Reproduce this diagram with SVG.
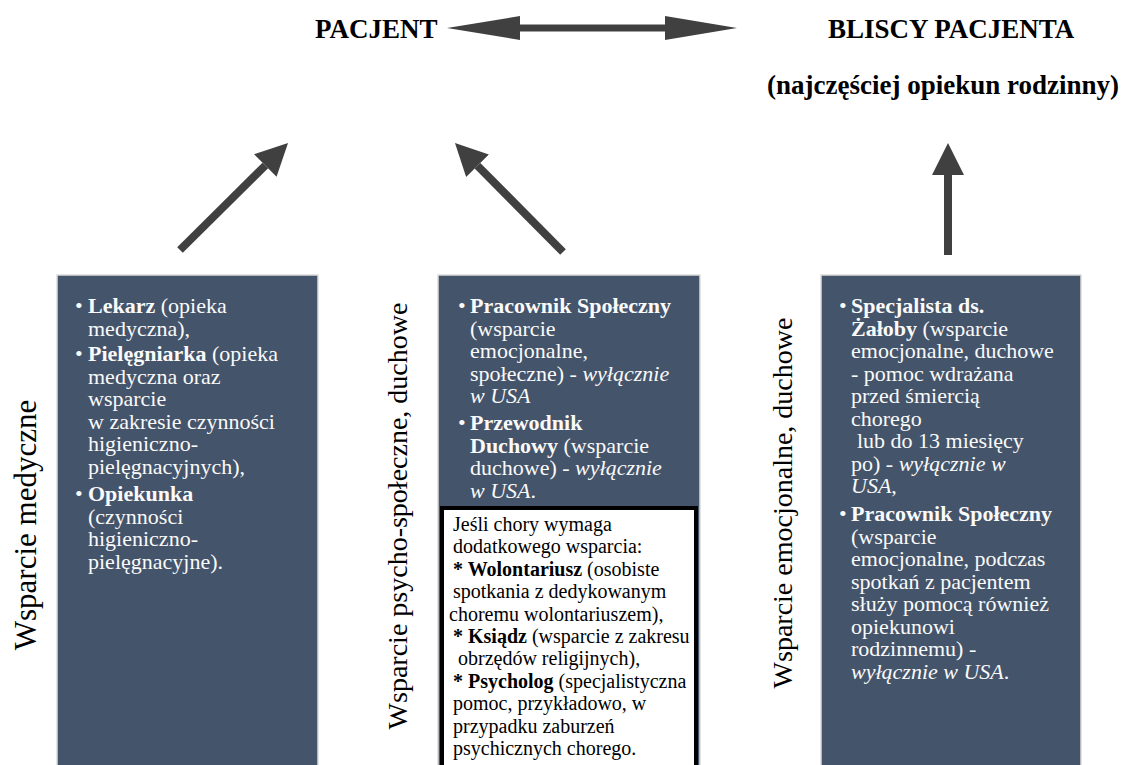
<svg xmlns="http://www.w3.org/2000/svg" width="1130" height="765" viewBox="0 0 1130 765">
<style>
  .title { font-family: "Liberation Serif", "Times New Roman", serif; font-weight: bold; font-size: 27px; fill: #000; }
  .side { font-family: "Liberation Serif", "Times New Roman", serif; fill: #000; }
  .box { fill: #44546A; stroke: #dcdcdc; stroke-width: 1.5; }
  .bt { font-family: "Liberation Serif", "Times New Roman", serif; font-size: 22px; fill: #fafafa; }
  .wt { font-family: "Liberation Serif", "Times New Roman", serif; font-size: 20px; fill: #000; }
  .b { font-weight: bold; }
  .i { font-style: italic; }
  .shaft { stroke: #404040; stroke-width: 8; fill: none; }
</style>
<defs>
  <marker id="head" markerUnits="userSpaceOnUse" markerWidth="34" markerHeight="34" refX="0" refY="16" orient="auto" viewBox="0 0 34 34">
    <path d="M0,0 L32,16 L0,32 Z" fill="#404040"/>
  </marker>
</defs>

<rect width="1130" height="765" fill="#ffffff"/>

<g id="node-pacjent">
  <text class="title" x="315" y="38">PACJENT</text>
</g>
<g id="node-bliscy">
  <text class="title" x="828" y="38" font-size="27.7">BLISCY PACJENTA</text>
  <text class="title" x="767" y="94" font-size="27.7">(najczęściej opiekun rodzinny)</text>
</g>

<g id="connectors">
  <polygon points="447,28 520,16 520,24.5 665,24.5 665,16 737,28 665,40 665,31.5 520,31.5 520,40" fill="#404040"/>
  <line class="shaft" x1="180" y1="250" x2="265.3" y2="165.5" marker-end="url(#head)"/>
  <line class="shaft" x1="563" y1="252" x2="477.5" y2="165.7" marker-end="url(#head)"/>
  <line class="shaft" x1="948" y1="255" x2="948" y2="175" marker-end="url(#head)"/>
</g>

<g id="node-medyczne">
  <text class="side" font-size="31" transform="translate(36,525) rotate(-90)" text-anchor="middle">Wsparcie medyczne</text>
  <rect class="box" x="57" y="275" width="261" height="500"/>
  <text class="bt"><tspan x="75" y="313">•</tspan><tspan x="88" y="313" class="b">Lekarz</tspan><tspan> (opieka</tspan><tspan x="88" y="335.5">medyczna),</tspan><tspan x="75" y="361">•</tspan><tspan x="88" y="361" class="b">Pielęgniarka</tspan><tspan> (opieka</tspan><tspan x="88" y="383.5">medyczna oraz</tspan><tspan x="88" y="406">wsparcie</tspan><tspan x="88" y="428.5">w zakresie czynności</tspan><tspan x="88" y="451">higieniczno-</tspan><tspan x="88" y="473.5">pielęgnacyjnych),</tspan><tspan x="75" y="501">•</tspan><tspan x="88" y="501" class="b">Opiekunka</tspan><tspan x="88" y="523.5">(czynności</tspan><tspan x="88" y="546">higieniczno-</tspan><tspan x="88" y="568.5">pielęgnacyjne).</tspan></text>
</g>

<g id="node-psycho">
  <text class="side" font-size="28" transform="translate(407,516) rotate(-90)" text-anchor="middle">Wsparcie psycho-społeczne, duchowe</text>
  <rect class="box" x="438" y="275" width="262" height="500"/>
  <text class="bt"><tspan x="458" y="313">•</tspan><tspan x="470" y="313" class="b">Pracownik Społeczny</tspan><tspan x="470" y="335.5">(wsparcie</tspan><tspan x="470" y="358">emocjonalne,</tspan><tspan x="470" y="380.5">społeczne) - </tspan><tspan class="i">wyłącznie</tspan><tspan x="470" y="403" class="i">w USA</tspan><tspan x="458" y="430">•</tspan><tspan x="470" y="430" class="b">Przewodnik</tspan><tspan x="470" y="452.5" class="b">Duchowy</tspan><tspan> (wsparcie</tspan><tspan x="470" y="475">duchowe) - </tspan><tspan class="i">wyłącznie</tspan><tspan x="470" y="497.5" class="i">w USA</tspan><tspan>.</tspan></text>
  <rect x="442" y="508" width="254" height="280" fill="#ffffff" stroke="#000000" stroke-width="4"/>
  <text class="wt"><tspan x="453" y="531">Jeśli chory wymaga</tspan><tspan x="453" y="553.4">dodatkowego wsparcia:</tspan><tspan x="453" y="575.8" class="b">* Wolontariusz</tspan><tspan> (osobiste</tspan><tspan x="453" y="598.2">spotkania z dedykowanym</tspan><tspan x="449" y="620.6">choremu wolontariuszem),</tspan><tspan x="453" y="643" class="b">* Ksiądz</tspan><tspan> (wsparcie z zakresu</tspan><tspan x="458" y="665.4">obrzędów religijnych),</tspan><tspan x="453" y="687.8" class="b">* Psycholog</tspan><tspan> (specjalistyczna</tspan><tspan x="453" y="710.2">pomoc, przykładowo, w</tspan><tspan x="453" y="732.6">przypadku zaburzeń</tspan><tspan x="453" y="755">psychicznych chorego.</tspan></text>
</g>

<g id="node-emocjonalne">
  <text class="side" font-size="28" transform="translate(792,503) rotate(-90)" text-anchor="middle">Wsparcie emocjonalne, duchowe</text>
  <rect class="box" x="821" y="275" width="260" height="500"/>
  <text class="bt"><tspan x="839" y="313">•</tspan><tspan x="851" y="313" class="b">Specjalista ds.</tspan><tspan x="851" y="335.5" class="b">Żałoby</tspan><tspan> (wsparcie</tspan><tspan x="851" y="358">emocjonalne, duchowe</tspan><tspan x="851" y="380.5">- pomoc wdrażana</tspan><tspan x="851" y="403">przed śmiercią</tspan><tspan x="851" y="425.5">chorego</tspan><tspan x="857" y="448">lub do 13 miesięcy</tspan><tspan x="851" y="470.5">po) - </tspan><tspan class="i">wyłącznie w</tspan><tspan x="851" y="493" class="i">USA</tspan><tspan>,</tspan><tspan x="839" y="521">•</tspan><tspan x="851" y="521" class="b">Pracownik Społeczny</tspan><tspan x="851" y="543.5">(wsparcie</tspan><tspan x="851" y="566">emocjonalne, podczas</tspan><tspan x="851" y="588.5">spotkań z pacjentem</tspan><tspan x="851" y="611">służy pomocą również</tspan><tspan x="851" y="633.5">opiekunowi</tspan><tspan x="851" y="656">rodzinnemu) -</tspan><tspan x="851" y="678.5" class="i">wyłącznie w USA</tspan><tspan>.</tspan></text>
</g>
</svg>
